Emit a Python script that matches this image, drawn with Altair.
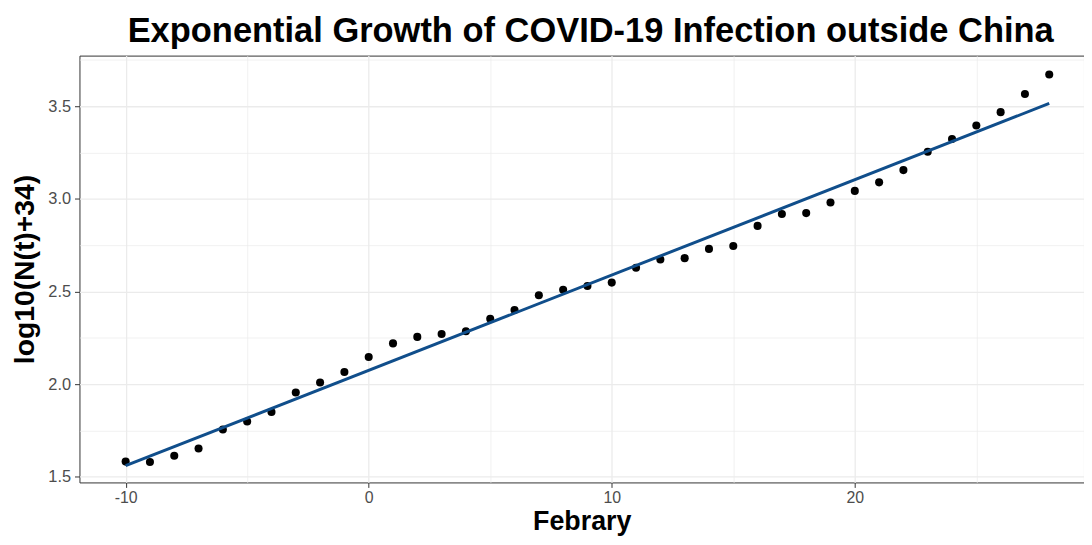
import altair as alt
import pandas as pd

days = [-10, -9, -8, -7, -6, -5, -4, -3, -2, -1, 0, 1, 2, 3, 4, 5, 6, 7, 8, 9,
        10, 11, 12, 13, 14, 15, 16, 17, 18, 19, 20, 21, 22, 23, 24, 25, 26, 27, 28]
log_cases = [1.582, 1.580, 1.614, 1.653, 1.755, 1.798, 1.850, 1.955, 2.009, 2.066,
             2.146, 2.220, 2.255, 2.271, 2.285, 2.353, 2.400, 2.480, 2.509, 2.530,
             2.548, 2.628, 2.673, 2.680, 2.730, 2.746, 2.854, 2.918, 2.923, 2.980,
             3.043, 3.089, 3.155, 3.254, 3.323, 3.396, 3.468, 3.566, 3.671]
x_ticks = [-10, -5, 0, 5, 10, 15, 20, 25]
y_ticks = [1.5, 1.75, 2.0, 2.25, 2.5, 2.75, 3.0, 3.25, 3.5, 3.75]

df = pd.DataFrame({"day": days, "val": log_cases})

xmaj = "datum.value % 10 === 0"
ymaj = "round(datum.value*100) % 50 === 0"

x_axis = alt.Axis(
    values=x_ticks,
    title="Febrary",
    labelExpr=f"{xmaj} ? toString(datum.value) : ''",
    gridWidth={"condition": {"test": xmaj, "value": 1.3}, "value": 0.7},
    tickColor={"condition": {"test": xmaj, "value": "#333333"}, "value": "transparent"},
    labelFontSize=16,
    labelPadding=2,
    titleFontSize=27,
    titlePadding=3,
)
y_axis = alt.Axis(
    values=y_ticks,
    title="log10(N(t)+34)",
    labelExpr=f"{ymaj} ? format(datum.value, '.1f') : ''",
    gridWidth={"condition": {"test": ymaj, "value": 1.3}, "value": 0.7},
    tickColor={"condition": {"test": ymaj, "value": "#333333"}, "value": "transparent"},
    labelFontSize=16.5,
    labelPadding=4,
    titleFontSize=28.5,
    titlePadding=8,
)

xs = alt.Scale(domain=[-11.9, 29.43], nice=False, zero=False)
ys = alt.Scale(domain=[1.4695, 3.773], nice=False, zero=False)

base = alt.Chart(df)
points = base.mark_circle(size=66, color="black", opacity=1).encode(
    x=alt.X("day:Q", scale=xs, axis=x_axis),
    y=alt.Y("val:Q", scale=ys, axis=y_axis),
)
line = base.transform_regression("day", "val").mark_line(
    color="#104E8B", strokeWidth=3
).encode(
    x=alt.X("day:Q", scale=xs),
    y=alt.Y("val:Q", scale=ys),
)

chart = alt.layer(points, line).properties(
    width=1012,
    height=430,
    autosize="none",
    padding={"left": 72, "top": 46, "right": 0, "bottom": 53},
    title=alt.TitleParams(
        "Exponential Growth of COVID-19 Infection outside China",
        fontSize=34.7, font="Liberation Sans", fontWeight="bold", color="black",
        anchor="middle", dx=9, offset=6,
    ),
).configure_view(
    stroke="#333333", strokeWidth=1
).configure_axis(
    domain=False,
    gridColor="#EBEBEB",
    tickSize=5,
    tickWidth=1,
    labelFont="Liberation Sans",
    labelColor="#4D4D4D",
    titleFont="Liberation Sans",
    titleFontWeight="bold",
    titleColor="black",
)

chart.save("out.html", embed_options={"renderer": "svg", "actions": False})
